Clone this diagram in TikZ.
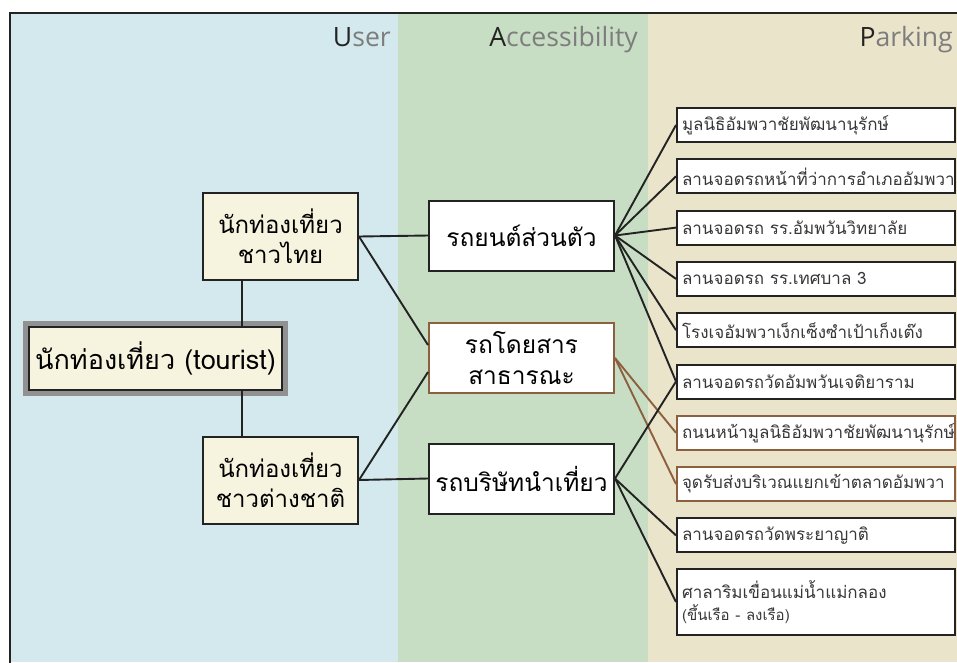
\documentclass[tikz,border=0pt]{standalone}
\usepackage{fontspec}
\setmainfont{Open Sans}
\newfontfamily\thaifont[Script=Thai]{Loma}
\definecolor{bandU}{RGB}{211,233,237}
\definecolor{bandA}{RGB}{200,222,196}
\definecolor{bandP}{RGB}{234,228,203}
\definecolor{cream}{RGB}{246,243,222}
\definecolor{lineC}{RGB}{35,35,35}
\definecolor{brownC}{RGB}{140,96,62}
\definecolor{shadeC}{RGB}{145,145,145}
\definecolor{headA}{RGB}{35,35,35}
\definecolor{headB}{RGB}{125,125,125}
\definecolor{placeT}{RGB}{55,55,55}
\begin{document}
\begin{tikzpicture}[x=1pt, y=-1pt,
    head/.style={anchor=base east, inner sep=0pt, text=headB, font=\fontsize{26.6}{30}\selectfont},
    box/.style={draw=lineC, line width=2pt, inner sep=0pt, align=center},
    mainbox/.style={box, fill=cream, minimum width=253pt, minimum height=63pt,
        preaction={draw=shadeC, line width=12pt}, font={\thaifont\fontsize{27}{30}\selectfont}},
    userbox/.style={box, fill=cream, minimum width=155pt, minimum height=87pt,
        font={\thaifont\fontsize{24}{30}\selectfont}},
    modebox/.style={box, fill=white, minimum width=185pt, minimum height=70pt,
        font={\thaifont\fontsize{24.5}{31}\selectfont}},
    placebox/.style={box, fill=white, text=placeT, text width=268pt, inner xsep=5pt,
        minimum height=34pt, align=left, font={\thaifont\fontsize{17}{22}\selectfont}},
    link/.style={draw=lineC, line width=1.9pt},
    blink/.style={draw=brownC, line width=1.9pt}]
    \clip (0,0) rectangle (957,662);
    % columns
    \fill[bandU] (10,13) rectangle (398,662);
    \fill[bandA] (398,13) rectangle (648,662);
    \fill[bandP] (648,13) rectangle (957,662);
    \draw[line width=1.8pt, draw=lineC] (10,680) -- (10,13) -- (970,13);
    \node[head] (hU) at (391,46) {\textcolor{headA}{U}ser};
    \node[head] (hA) at (638,46) {\textcolor{headA}{A}ccessibility};
    \node[head] (hP) at (953,46) {\textcolor{headA}{P}arking};
    % users
    \node[mainbox] (T) at (155.5,358.5) {นักท่องเที่ยว (tourist)};
    \node[userbox] (TH) at (280.5,236.5) {นักท่องเที่ยว\\ชาวไทย};
    \node[userbox] (FO) at (280.5,480) {นักท่องเที่ยว\\ชาวต่างชาติ};
    % accessibility
    \node[modebox] (CAR) at (521.5,235.5) {รถยนต์ส่วนตัว};
    \node[modebox, draw=brownC] (BUS) at (521.5,358) {รถโดยสาร\\สาธารณะ};
    \node[modebox] (TOUR) at (521.5,478.5) {รถบริษัทนำเที่ยว};
    % parking
    \node[placebox] (P1) at (816,125) {มูลนิธิอัมพวาชัยพัฒนานุรักษ์};
    \node[placebox] (P2) at (816,176.3) {ลานจอดรถหน้าที่ว่าการอำเภออัมพวา};
    \node[placebox] (P3) at (816,227.6) {ลานจอดรถ รร.อัมพวันวิทยาลัย};
    \node[placebox] (P4) at (816,278.9) {ลานจอดรถ รร.เทศบาล 3};
    \node[placebox] (P5) at (816,330.2) {โรงเจอัมพวาเง็กเซ็งซำเป้าเก็งเต๊ง};
    \node[placebox] (P6) at (816,381.5) {ลานจอดรถวัดอัมพวันเจติยาราม};
    \node[placebox, draw=brownC] (P7) at (816,432.8) {ถนนหน้ามูลนิธิอัมพวาชัยพัฒนานุรักษ์};
    \node[placebox, draw=brownC] (P8) at (816,484.1) {จุดรับส่งบริเวณแยกเข้าตลาดอัมพวา};
    \node[placebox] (P9) at (816,535.4) {ลานจอดรถวัดพระยาญาติ};
    \node[placebox, minimum height=66pt] (P10) at (816,602) {ศาลาริมเขื่อนแม่น้ำแม่กลอง\\{\fontsize{15}{19}\selectfont(ขึ้นเรือ - ลงเรือ)}};
    \draw[link] ([xshift=-38.5pt]TH.south) -- ([xshift=-38.5pt]TH.south |- T.north);
    \draw[link] ([xshift=-38.5pt]FO.north) -- ([xshift=-38.5pt]FO.north |- T.south);
    \draw[link] (TH.east) -- (CAR.west);
    \draw[link] (TH.east) -- ([yshift=13pt]BUS.west);
    \draw[link] (FO.east) -- ([yshift=-14pt]BUS.west);
    \draw[link] (FO.east) -- (TOUR.west);
    \draw[link] (CAR.east) -- (P1.west);
    \draw[link] (CAR.east) -- (P2.west);
    \draw[link] (CAR.east) -- (P3.west);
    \draw[link] (CAR.east) -- (P4.west);
    \draw[link] (CAR.east) -- (P5.west);
    \draw[link] (CAR.east) -- (P6.west);
    \draw[blink] (BUS.east) -- (P7.west);
    \draw[blink] (BUS.east) -- (P8.west);
    \draw[link] (TOUR.east) -- (P6.west);
    \draw[link] (TOUR.east) -- (P9.west);
    \draw[link] (TOUR.east) -- (P10.west);
\end{tikzpicture}
\end{document}
